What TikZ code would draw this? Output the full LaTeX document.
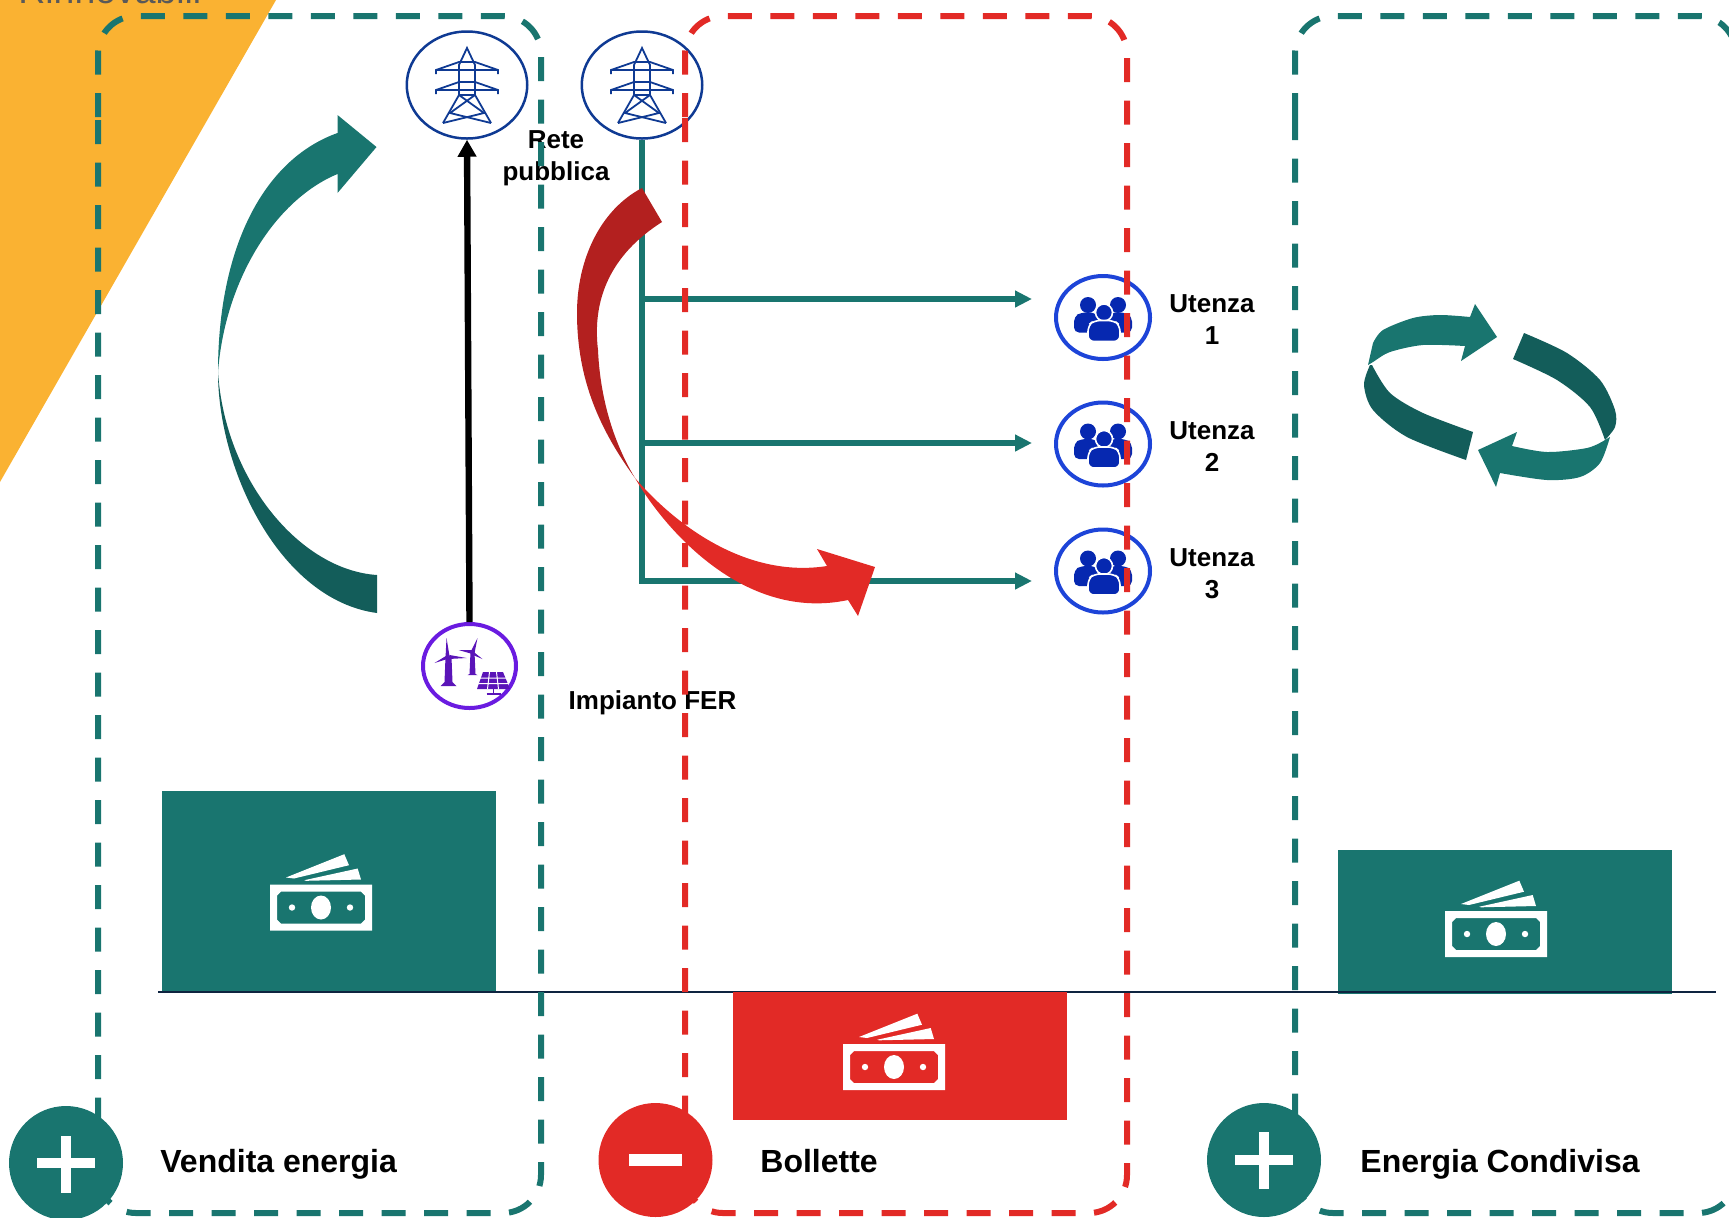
\documentclass[tikz,border=0pt]{standalone}
\usepackage{fontspec}
\setmainfont{Liberation Sans}
\usetikzlibrary{arrows.meta,shapes.geometric}
\definecolor{tealbase}{HTML}{19756F}
\definecolor{tealscuro}{HTML}{135D5A}
\definecolor{rosso}{HTML}{E22A26}
\definecolor{rossoscuro}{HTML}{B3201F}
\definecolor{arancio}{HTML}{FAB232}
\definecolor{blurete}{HTML}{0F3A93}
\definecolor{bluutenza}{HTML}{1D44D8}
\definecolor{bluicona}{HTML}{0628B0}
\definecolor{viola}{HTML}{6A1BE0}
\definecolor{violaicona}{HTML}{5A14B8}
\definecolor{navy}{HTML}{0E2440}
\tikzset{
	pannello/.style={line width=3pt, rounded corners=19pt, dash pattern=on 12pt off 9.25pt},
	retenode/.style={draw=blurete, line width=1.25pt, ellipse, minimum width=60.25pt, minimum height=53.5pt, inner sep=0pt},
	utenzanode/.style={draw=bluutenza, line width=2pt, ellipse, minimum width=47pt, minimum height=41.5pt, inner sep=0pt},
	fernode/.style={draw=viola, line width=2pt, ellipse, minimum width=46.5pt, minimum height=42pt, inner sep=0pt},
	segnonode/.style={circle, minimum size=57pt, inner sep=0pt},
	testo/.style={font=\fontsize{13}{16}\selectfont\bfseries, align=center, inner sep=0pt},
	titolo/.style={font=\fontsize{16}{19}\selectfont\bfseries, anchor=base west, inner sep=0pt},
	linea/.style={color=tealbase, line width=3pt},
	pics/soldi/.style={code={
		\fill[white, even odd rule] (-51,-23) rectangle (51,23)
			(-40,-16) -- (40,-16) -- (44,-12) -- (44,12) -- (40,16) -- (-40,16) -- (-44,12) -- (-44,-12) -- cycle;
		\fill[white] (0,0) ellipse (10 and 12);
		\fill[white] (-29,0) circle (3.2);
		\fill[white] (29,0) circle (3.2);
		\fill[white] (-35,-30) -- (23.3,-53.3) -- (28,-42.3) -- (-27,-29) -- cycle;
		\fill[white] (-16.7,-27.3) -- (36.7,-39) -- (40,-28) -- (-15,-26.7) -- cycle;
	}},
	pics/traliccio/.style={code={
		\draw[blurete, line width=0.9pt] (-24,38) -- (-8,10) -- (-8,-20) -- (0,-37) -- (8,-20) -- (8,10) -- (24,38);
		\draw[blurete, line width=0.9pt] (-31,-11) -- (-31,-15) -- (-8,-23) -- (8,-23) -- (31,-15) -- (31,-11);
		\draw[blurete, line width=0.9pt] (-31,-15) -- (31,-15);
		\draw[blurete, line width=0.9pt] (-31,9) -- (-31,5) -- (-8,-3) -- (8,-3) -- (31,5) -- (31,9);
		\draw[blurete, line width=0.9pt] (-31,5) -- (31,5);
		\draw[blurete, line width=0.9pt] (-8,10) -- (8,10);
		\draw[blurete, line width=0.9pt] (-8,10) -- (17,28) -- (-24,38);
		\draw[blurete, line width=0.9pt] (8,10) -- (-17,28) -- (24,38);
	}},
	pics/gruppo/.style={code={
		\fill[bluicona] (-15,-12.5) circle (8);
		\fill[bluicona] (15,-12.5) circle (8);
		\fill[bluicona, rounded corners=2.5pt] (-29,15) -- (-29,-1) -- (-22,-5) -- (-8,-5) -- (-5,-1) -- (-5,15) -- cycle;
		\fill[bluicona, rounded corners=2.5pt] (5,15) -- (5,-1) -- (8,-5) -- (22,-5) -- (29,-1) -- (29,15) -- cycle;
		\filldraw[fill=bluicona, draw=white, line width=0.8pt] (1,-5) circle (8.5);
		\filldraw[fill=bluicona, draw=white, line width=0.8pt, rounded corners=3pt] (-15,24) -- (-15,8) -- (-9,3) -- (11,3) -- (17,8) -- (17,24) -- cycle;
	}},
	pics/rinnovabili/.style={code={
		\fill[violaicona] (-24,-9) -- (-18,-9) -- (-17,16) -- (-13,20) -- (-29,20) -- (-25,16) -- cycle;
		\fill[violaicona] (-23,-28) -- (-20,-10) -- (-24,-8) -- cycle;
		\fill[violaicona] (-35,-3) -- (-22,-11) -- (-19,-8) -- cycle;
		\fill[violaicona] (-3,-8) -- (-20,-11) -- (-21,-7) -- cycle;
		\fill[violaicona] (1,-14) -- (5,-14) -- (6,8) -- (8,9) -- (-2,9) -- (0,8) -- cycle;
		\fill[violaicona] (8,-28) -- (5,-13) -- (1,-14) -- cycle;
		\fill[violaicona] (-11,-16) -- (3,-16) -- (3,-12) -- cycle;
		\fill[violaicona] (13,-7) -- (3,-15) -- (1,-12) -- cycle;
		\fill[violaicona] (13.5,6) -- (33.5,6) -- (40.5,23) -- (7.5,23) -- cycle;
		\draw[white, line width=0.5pt] (10,12) -- (37,12) (9,17.5) -- (39,17.5) (20,6) -- (18,23) (27,6) -- (29,23);
		\draw[violaicona, line width=0.7pt] (24,23) -- (24,28) (17,28) -- (31,28);
	}}
}
\begin{document}
\begin{tikzpicture}[x=0.5pt, y=-0.5pt]
	\useasboundingbox (0,0) rectangle (1729,1217);
	\clip (0,0) rectangle (1729,1217);
	%%%%% sfondo %%%%%
	\fill[arancio] (0,0) -- (276,0) -- (0,482) -- cycle;
	\node[anchor=base west, inner sep=0pt, color=black!65, font=\fontsize{18.7}{20}\selectfont] (sfondotxt) at (18,3) {Rinnovabili};

	\fill[tealbase] (162,791) rectangle (496,992);
	\fill[tealbase] (1338,850) rectangle (1672,994);
	\draw[navy, line width=1pt] (158,992) -- (1716,992);
	\fill[rosso] (733,992) rectangle (1067,1120);
	\pic at (321,907.5) {soldi};
	\pic at (894,1067) {soldi};
	\pic at (1496,934) {soldi};

	%%%%% nodi %%%%%
	\node[retenode] (rete1) at (467,85) {};
	\node[retenode] (rete2) at (642,85) {};
	\pic at (467,85) {traliccio};
	\pic at (642,85) {traliccio};
	\node[fernode] (fer) at (469.5,666) {};
	\pic at (469.5,666) {rinnovabili};
	\node[utenzanode] (ut1) at (1103,317.5) {};
	\node[utenzanode] (ut2) at (1103,444) {};
	\node[utenzanode] (ut3) at (1103,571) {};
	\pic at (1103,317.5) {gruppo};
	\pic at (1103,444) {gruppo};
	\pic at (1103,571) {gruppo};

	%%%%% linee %%%%%
	\coordinate (nodo1) at (642,299);
	\coordinate (nodo2) at (642,443);
	\coordinate (nodo3) at (642,581);
	\coordinate (fine1) at (1032,299);
	\coordinate (fine2) at (1032,443);
	\coordinate (fine3) at (1032,581);
	\draw[linea, -{Triangle[length=8.5pt,width=8pt]}] (rete2.south) -- (nodo3) -- (fine3);
	\draw[linea, -{Triangle[length=8.5pt,width=8pt]}] (nodo1) -- (fine1);
	\draw[linea, -{Triangle[length=8.5pt,width=8pt]}] (nodo2) -- (fine2);
	\draw[line width=3.2pt, -{Triangle[length=8.5pt,width=9pt]}] (fer.north) -- (rete1.south);

	%%%%% frecce curve %%%%%
	\fill[tealbase] (218,372) .. controls (218,250) and (262,160) .. (337.5,133) -- (337.5,115) -- (376.5,147) -- (337.5,193) -- (337.5,174) .. controls (275,200) and (225,280) .. cycle;
	\fill[tealscuro] (218,372) .. controls (218,470) and (280,600) .. (377,613) -- (377,575) .. controls (300,570) and (225,480) .. cycle;

	\fill[rossoscuro] (642,188) -- (662,222) .. controls (610,255) and (592,300) .. (598,350) .. controls (600,395) and (612,440) .. (635,478) .. controls (600,430) and (577,380) .. (577,313) .. controls (577,260) and (600,210) .. cycle;
	\fill[rosso] (635,478) .. controls (665,530) and (745,622) .. (848,600) -- (858,616) -- (875,567) -- (817,549) -- (827,566) .. controls (750,578) and (680,530) .. cycle;

	\fill[tealbase] plot[smooth] coordinates {(1373,343) (1383,330) (1413,318) (1440,315) (1470,317)} -- (1475,304) -- (1497,337) -- (1461,361) -- plot[smooth] coordinates {(1465,346) (1423,345) (1390,352) (1373,362) (1368,365)} -- cycle;
	\fill[tealscuro] plot[smooth] coordinates {(1370,365) (1364,385) (1373,410) (1407,437) (1466,460)} -- plot[smooth] coordinates {(1473,432) (1423,413) (1390,393) (1372,365)} -- cycle;
	\fill[tealscuro] plot[smooth] coordinates {(1524,333) (1567,353) (1600,380) (1615,410) (1615,427) (1605,440)} -- plot[smooth] coordinates {(1605,440) (1590,407) (1557,380) (1513,359)} -- cycle;
	\fill[tealbase] plot[smooth] coordinates {(1610,437) (1600,463) (1580,477) (1547,480) (1500,473)} -- (1496,487) -- (1478,450) -- (1517,432) -- plot[smooth] coordinates {(1512,446) (1547,452) (1587,448) (1605,440)} -- cycle;

	%%%%% testi %%%%%
	\node[testo] (retetxt) at (556,158) {Rete\\pubblica};
	\node[testo] (fertxt) at (652.5,703) {Impianto FER};
	\node[testo] (ut1txt) at (1212,320) {Utenza\\1};
	\node[testo] (ut2txt) at (1212,447) {Utenza\\2};
	\node[testo] (ut3txt) at (1212,574) {Utenza\\3};
	\node[titolo] (vendita) at (160,1172) {Vendita energia};
	\node[titolo] (bollette) at (760,1172) {Bollette};
	\node[titolo] (condivisa) at (1360,1172) {Energia Condivisa};

	%%%%% pannelli %%%%%
	\draw[pannello, color=tealbase] (98,117) -- (98,16) -- (541,16) -- (541,1213) -- (98,1213) -- (98,117);
	\draw[pannello, color=rosso] (685,117) -- (685,16) -- (1127,16) -- (1127,1213) -- (685,1213) -- (685,117);
	\draw[pannello, color=tealbase] (1295,117) -- (1295,16) -- (1736,16) -- (1736,1213) -- (1295,1213) -- (1295,117);

	%%%%% segni %%%%%
	\node[segnonode, fill=tealbase] (piu1) at (66,1163) {};
	\node[segnonode, fill=rosso] (meno) at (655.5,1160) {};
	\node[segnonode, fill=tealbase] (piu2) at (1264,1160) {};
	\fill[white] (37,1158) rectangle (95,1168);
	\fill[white] (61,1136) rectangle (71,1193);
	\fill[white] (629,1154) rectangle (682,1166);
	\fill[white] (1235,1155) rectangle (1293,1165);
	\fill[white] (1259,1132) rectangle (1269,1189);
\end{tikzpicture}
\end{document}
